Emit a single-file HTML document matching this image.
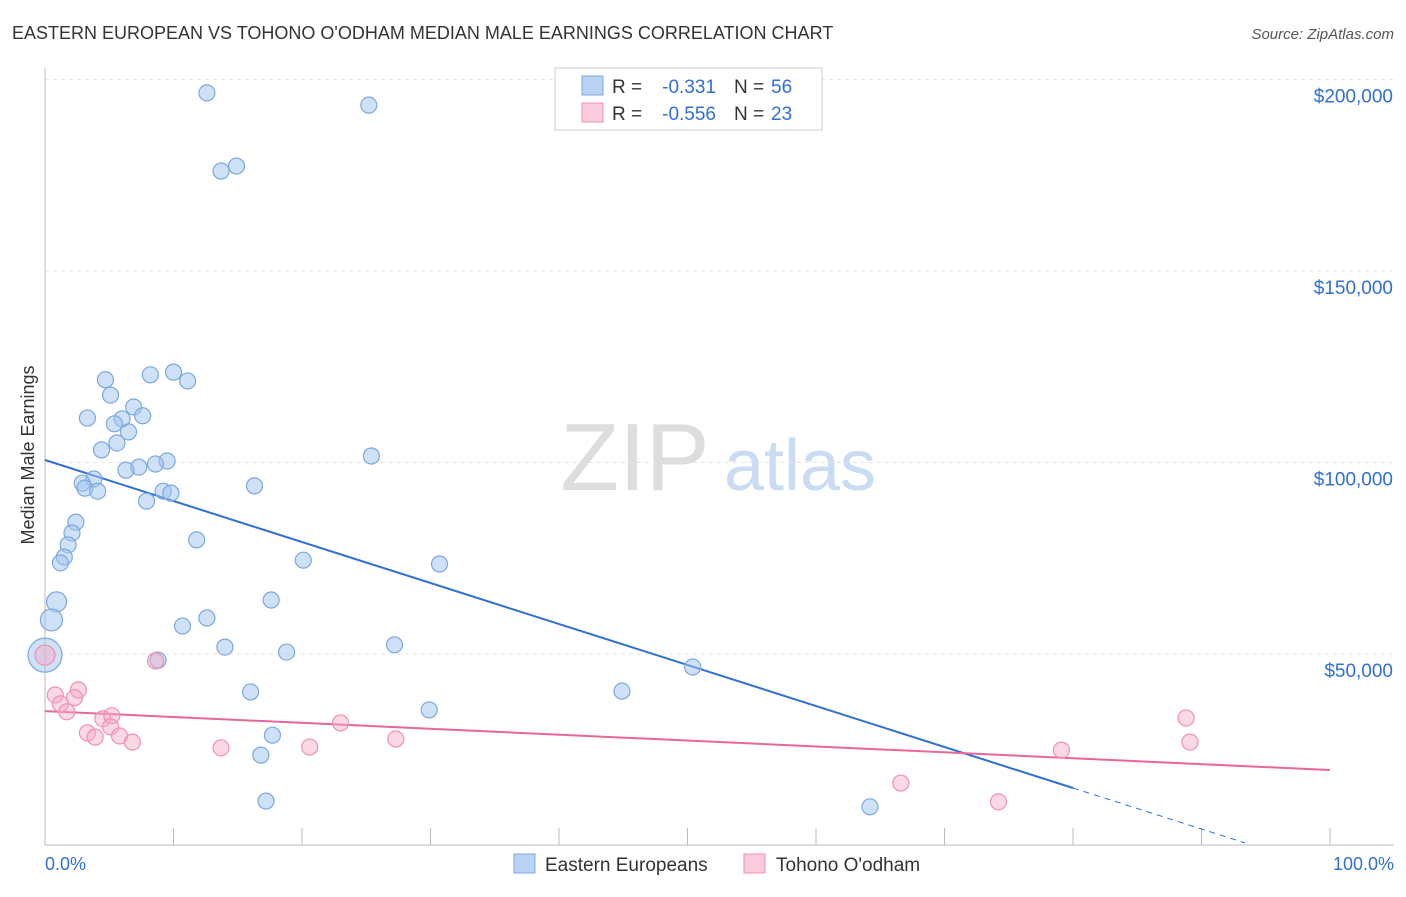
<!DOCTYPE html>
<html><head><meta charset="utf-8"><style>
body{margin:0;background:#fff;font-family:"Liberation Sans",sans-serif;}
svg text{font-family:"Liberation Sans",sans-serif;}
</style></head><body>
<svg id="chart" width="1406" height="892" xmlns="http://www.w3.org/2000/svg">
<text x="12" y="39" font-size="18" fill="#333">EASTERN EUROPEAN VS TOHONO O'ODHAM MEDIAN MALE EARNINGS CORRELATION CHART</text>
<text x="1394" y="39" font-size="15" fill="#555" text-anchor="end" font-style="italic">Source: ZipAtlas.com</text>
<text transform="translate(34,455) rotate(-90)" font-size="18" fill="#333" text-anchor="middle">Median Male Earnings</text>
<text x="635" y="490" font-size="96" fill="#ddd" font-family="Liberation Serif" text-anchor="middle">ZIP</text>
<text x="800" y="490" font-size="72" fill="#c9dcf3" text-anchor="middle">atlas</text>
<g id="grid"></g><g id="axes"></g><g id="lines"></g><g id="pts"></g>
<g>
<rect x="555" y="68" width="267" height="62" fill="#fff" stroke="#ccc"/>
<rect x="582" y="76" width="21" height="19" fill="#b9d3f5" stroke="#7aa8e0"/>
<rect x="582" y="103" width="21" height="19" fill="#fbcbdb" stroke="#f090b0"/>
<text x="612" y="93" font-size="19" fill="#333">R =</text>
<text x="716" y="93" font-size="19" fill="#2f6fd6" text-anchor="end">-0.331</text>
<text x="734" y="93" font-size="19" fill="#333">N =</text>
<text x="771" y="93" font-size="19" fill="#2f6fd6">56</text>
<text x="612" y="120" font-size="19" fill="#333">R =</text>
<text x="716" y="120" font-size="19" fill="#2f6fd6" text-anchor="end">-0.556</text>
<text x="734" y="120" font-size="19" fill="#333">N =</text>
<text x="771" y="120" font-size="19" fill="#2f6fd6">23</text>
</g>
<g>
<rect x="514" y="854" width="21" height="19" fill="#b9d3f5" stroke="#7aa8e0"/>
<text x="545" y="871" font-size="19" fill="#333">Eastern Europeans</text>
<rect x="744" y="854" width="21" height="19" fill="#fbcbdb" stroke="#f090b0"/>
<text x="776" y="871" font-size="19" fill="#333">Tohono O'odham</text>
</g>
<text x="45" y="870" font-size="18" fill="#2f6fd6">0.0%</text>
<text x="1394" y="870" font-size="18" fill="#2f6fd6" text-anchor="end">100.0%</text>
</svg>
<script>
const yTicks=[50000,100000,150000,200000];
const yTickLabels=["$50,000","$100,000","$150,000","$200,000"];
const blueX=[12.6,25.2,14.9,13.7,4.7,8.2,10.0,11.1,5.1,3.3,6.9,7.6,6.0,5.4,6.5,5.6,4.4,25.4,9.5,8.6,7.3,6.3,3.8,2.9,3.1,16.3,4.1,9.2,9.8,7.9,2.4,2.1,11.8,1.8,1.5,1.2,20.1,30.7,0.9,17.6,0.5,12.6,10.7,0,14.0,18.8,27.2,8.8,50.4,16.0,44.9,29.9,17.7,16.8,17.2,64.2];
const blueY=[196500,193300,177400,176100,121600,122900,123600,121300,117600,111600,114500,112200,111400,110100,108000,105100,103300,101700,100400,99600,98800,98000,95700,94600,93300,93900,92500,92500,92000,89900,84400,81600,79800,78500,75300,73800,74500,73500,63600,64100,58900,59400,57300,49700,51800,50500,52400,48400,46600,40100,40300,35400,28800,23600,11600,10100];
const blueR=[8,8,8,8,8,8,8,8,8,8,8,8,8,8,8,8,8,8,8,8,8,8,8,8,8,8,8,8,8,8,8,8,8,8,8,8,8,8,10,8,11,8,8,17,8,8,8,8,8,8,8,8,8,8,8,8];
const pinkX=[0,0.8,2.6,1.2,2.3,1.7,4.5,5.2,5.1,3.3,3.9,5.8,6.8,8.6,13.7,20.6,23.0,27.3,66.6,74.2,79.1,88.8,89.1];
const pinkY=[49700,39300,40600,37000,38600,34900,33100,33900,31000,29400,28300,28600,27000,48200,25500,25700,32000,27800,16300,11400,24900,33300,27000];
const blueTrend=[100650,-6400];
const pinkTrend=[35100,19700];
const X0=45,X1=1330,Y0=845.5,PX50=191.5;
const sx=v=>X0+(X1-X0)*v/100;
const sy=v=>Y0-v/50000*PX50;
const NS="http://www.w3.org/2000/svg";
function mk(tag,attrs,parent){const e=document.createElementNS(NS,tag);for(const k in attrs)e.setAttribute(k,attrs[k]);document.getElementById(parent).appendChild(e);return e;}
yTicks.forEach((t,i)=>{
 const g=mk('line',{x1:45,x2:1394,y1:sy(t),y2:sy(t),stroke:'#e4e4e4','stroke-dasharray':'4,4'},'grid');
 
 
 const l=mk('text',{x:1393,y:sy(t)+23,'font-size':19,fill:'#2f6fd6','text-anchor':'end'},'grid');
 l.textContent=yTickLabels[i];
 
 
});
const yAxisLine=mk('line',{x1:45,x2:45,y1:68,y2:845,stroke:'#bbb'},'axes');


const xAxisLine=mk('line',{x1:45,x2:1394,y1:845,y2:845,stroke:'#bbb'},'axes');


for(let i=0;i<=10;i++){const t=mk('line',{x1:sx(i*10),x2:sx(i*10),y1:828,y2:845,stroke:'#bbb'},'axes');
 
 }
const bAt=x=>blueTrend[0]+(blueTrend[1]-blueTrend[0])*x/100;
const b1=mk('line',{x1:sx(0),y1:sy(bAt(0)),x2:sx(80),y2:sy(bAt(80)),stroke:'#2f6fd6','stroke-width':2},'lines');


const bEnd=93.4;
const b2=mk('line',{x1:sx(80),y1:sy(bAt(80)),x2:sx(bEnd),y2:sy(bAt(bEnd)),stroke:'#2f6fd6','stroke-width':1,'stroke-dasharray':'6,5'},'lines');


const p1=mk('line',{x1:sx(0),y1:sy(pinkTrend[0]),x2:sx(100),y2:sy(pinkTrend[1]),stroke:'#e8679a','stroke-width':2},'lines');


blueX.forEach((x,i)=>{const c=mk('circle',{cx:sx(x),cy:sy(blueY[i]),r:blueR[i],fill:'rgba(160,196,240,0.5)',stroke:'#7aa8e0','stroke-width':1.2},'pts');
 
 });
pinkX.forEach((x,i)=>{const c=mk('circle',{cx:sx(x),cy:sy(pinkY[i]),r:i==0?10:8,fill:'rgba(245,170,195,0.45)',stroke:'#f090b0','stroke-width':1.2},'pts');
 
 });
</script>
</body></html>
